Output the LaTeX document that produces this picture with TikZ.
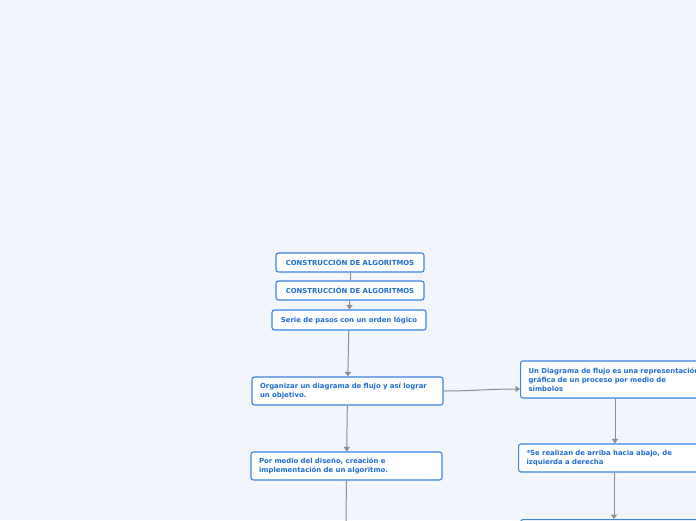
\documentclass[tikz,border=0pt]{standalone}
\usepackage{fontspec}
\setmainfont{DejaVu Sans}
\usepackage{tikz}
\usetikzlibrary{arrows.meta,positioning}
\definecolor{MMBack}{HTML}{F2F5FC}
\definecolor{MMBlue}{HTML}{3A84DE}
\definecolor{MMText}{HTML}{1F6ECF}
\definecolor{MMLine}{HTML}{8C8C90}

\begin{document}
\begin{tikzpicture}[
 x=1pt,y=-1pt,
 box/.style={draw=MMBlue,line width=1.1pt,rounded corners=2.5pt,fill=white,inner xsep=8pt,inner ysep=0pt,font=\fontsize{6.9}{8.9}\selectfont\bfseries,text=MMText},
 tbox/.style={box,align=center,minimum height=19pt},
 wbox/.style={box,align=left,text width=175pt,minimum height=28pt},
 arrow/.style={-{Triangle[width=6pt,length=4.5pt]},line width=1pt,color=MMLine}
]
\clip (0,0) rectangle (696,520);
\fill[MMBack] (0,0) rectangle (696,520);
% main column
\node[tbox,minimum width=148pt] (t1) at (350,262.5) {CONSTRUCCIÓN DE ALGORITMOS};
\node[tbox,minimum width=148pt] (t2) at (350,290.5) {CONSTRUCCIÓN DE ALGORITMOS};
\node[tbox,minimum width=154pt,minimum height=20pt] (serie) at (349,320) {Serie de pasos con un orden lógico};
\node[wbox] (org) at (347.5,391) {Organizar un diagrama de flujo y así lograr\\un objetivo.};
\node[wbox] (medio) at (346.5,466) {Por medio del diseño, creación e\\implementación de un algoritmo.};
\coordinate (down) at (346,530);
% right column
\node[wbox,anchor=west,text width=190pt,minimum height=37pt] (diag) at (520,379.5) {Un Diagrama de flujo es una representación\\gráfica de un proceso por medio de\\símbolos};
\node[wbox,anchor=west] (arriba) at (518,458) {*Se realizan de arriba hacia abajo, de\\izquierda a derecha};
\node[wbox,anchor=north west] (next) at (520,519) {};
\draw[line width=1pt,color=MMLine] (t1)--(t2);
\draw[arrow] (t2)--(serie); \draw[arrow] (serie)--(org); \draw[arrow] (org)--(medio);
\draw[line width=1pt,color=MMLine] (medio)--(down);
\draw[arrow] (org.east) to[out=0,in=180] ([yshift=-9.5pt]diag.west);
\draw[arrow] (diag.south-|615,0)--(arriba.north-|615,0);
\draw[arrow] (arriba.south-|614,0)--(next.north-|614,0);
\end{tikzpicture}
\end{document}
